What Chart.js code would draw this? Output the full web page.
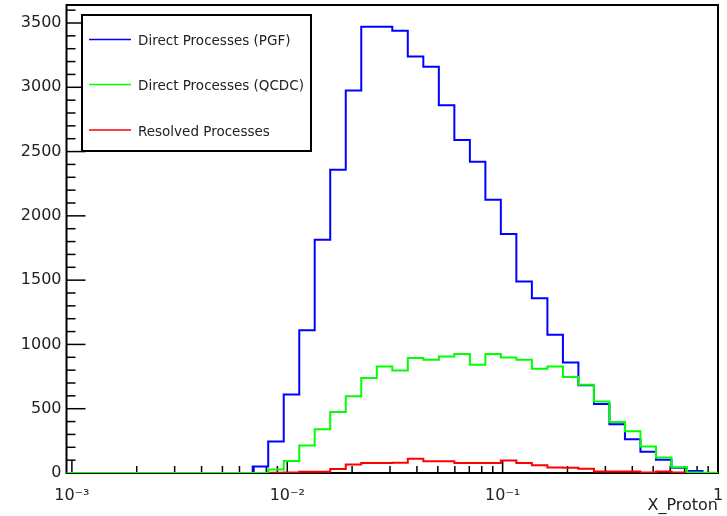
<!DOCTYPE html>
<html>
<head>
<meta charset="utf-8">
<script src="https://cdn.jsdelivr.net/npm/chart.js@4.4.0/dist/chart.umd.min.js"></script>
<style>
  html, body { margin: 0; padding: 0; background: #fff; }
  #c { display: block; }
</style>
</head>
<body>
<canvas id="c" width="727" height="516"></canvas>
<script>
// ─── Data ─────────────────────────────────────────────────────
// 42 log-spaced bins in X_Proton, edges

const binEdges = [
  0.000944, 0.001114, 0.001315, 0.001553, 0.001833, 0.002164, 0.002554, 0.003015,
  0.003559, 0.004201, 0.004959, 0.005854, 0.006910, 0.008157, 0.009629, 0.01137,
  0.01341,  0.01583,  0.01869,  0.02206,  0.02604,  0.03074,  0.03628,  0.04283,
  0.05056,  0.05968,  0.07045,  0.08316,  0.09810,  0.1158,   0.1367,   0.1614,
  0.1905,   0.2248,   0.2654,   0.3132,   0.3698,   0.4364,   0.5151,   0.6080,
  0.7177,   0.8472,   1,
];

const pgf = [
  0, 0, 0, 0, 0, 0, 0, 0, 0, 0, 0, 0,
  50, 245, 610, 1110, 1815, 2358, 2975, 3470, 3470, 3440,
  3240, 3160, 2860, 2590, 2420, 2125, 1858, 1490, 1360, 1075,
  860, 682, 536, 380, 262, 165, 103, 40, 16, 0,
];

const qcdc = [
  0, 0, 0, 0, 0, 0, 0, 0, 0, 0, 0, 0, 0,
  28, 93, 213, 340, 474, 596, 739, 829, 798, 894,
  881, 907, 925, 842, 925, 899, 881, 811, 829, 746,
  687, 557, 396, 324, 207, 121, 44, 3, 2,
];

const resolved = [
  0, 0, 0, 0, 0, 0, 0, 0, 0, 0, 0, 0, 0,
  2, 3, 10, 10, 31, 67, 78, 78, 80, 110,
  92, 92, 78, 78, 78, 98, 78, 60, 42, 40,
  33, 12, 12, 12, 3, 12, 3, 0, 0,
];

const xTickValues = [0.001, 0.01, 0.1, 1];
const xTickLabels = ['10⁻³', '10⁻²', '10⁻¹', '1'];
const yTickValues = [0, 500, 1000, 1500, 2000, 2500, 3000, 3500];
const yMax = 3640;

const FONT = '"DejaVu Sans", "Liberation Sans", sans-serif';
Chart.defaults.color = '#222';

// step outline: one point per bin low edge, plus closing point at the last edge
function histPoints(counts) {
  const pts = counts.map((v, i) => ({ x: binEdges[i], y: v }));
  pts.push({ x: binEdges[binEdges.length - 1], y: counts[counts.length - 1] });
  return pts;
}

// ── ROOT style frame with inward ticks ────────────────────────

const rootFrame = {
  id: 'rootFrame',
  beforeDatasetsDraw(chart) {
    const { ctx, chartArea: a, scales: { x, y } } = chart;
    const seg = (x1, y1, x2, y2) => { ctx.beginPath(); ctx.moveTo(x1, y1); ctx.lineTo(x2, y2); ctx.stroke(); };
    ctx.save();
    ctx.strokeStyle = '#000';
    ctx.lineWidth = 1.5;

    for (let v = 0; v <= yMax; v += 100) {
      const py = y.getPixelForValue(v);
      seg(a.left, py, a.left + (v % 500 === 0 ? 19 : 9), py);
    }
    for (let e = -4; e <= 0; e++) {
      for (let d = 1; d <= 9; d++) {
        const v = d * Math.pow(10, e);
        if (v < x.min || v > x.max) continue;
        const px = x.getPixelForValue(v);
        seg(px, a.bottom, px, a.bottom - (d === 1 ? 13 : 7));
      }
    }

    ctx.lineWidth = 2;
    ctx.strokeRect(a.left, a.top, a.right - a.left, a.bottom - a.top);
    ctx.restore();
  },
};

// ── Boxed legend in the upper left ────────────────────────────

const rootLegend = {
  id: 'rootLegend',
  afterDraw(chart, args, o) {
    const { ctx } = chart;
    ctx.save();
    ctx.fillStyle = '#fff';
    ctx.fillRect(o.left, o.top, o.right - o.left, o.bottom - o.top);
    ctx.strokeStyle = '#000';
    ctx.lineWidth = 2;
    ctx.strokeRect(o.left, o.top, o.right - o.left, o.bottom - o.top);

    ctx.font = '13.5px ' + FONT;
    ctx.textBaseline = 'middle';
    chart.data.datasets.forEach((ds, i) => {
      const ry = o.rows[i];
      ctx.strokeStyle = ds.borderColor;
      ctx.lineWidth = 1.5;
      ctx.beginPath();
      ctx.moveTo(o.left + 7, ry);
      ctx.lineTo(o.left + 49, ry);
      ctx.stroke();
      ctx.fillStyle = '#222';
      ctx.fillText(ds.label, o.left + 56, ry + 2);
    });
    ctx.restore();
  },
};

function dataset(label, counts, color, order) {
  return {
    label,
    data: histPoints(counts),
    borderColor: color,
    borderWidth: 2,
    stepped: true,
    fill: false,
    pointRadius: 0,
    order,
  };
}

new Chart(document.getElementById('c'), {
  type: 'line',
  data: {
    datasets: [
      dataset('Direct Processes (PGF)',  pgf,      '#0000ff', 2),
      dataset('Direct Processes (QCDC)', qcdc,     '#00ff00', 1),
      dataset('Resolved Processes',      resolved, '#ff0000', 3),
    ],
  },
  options: {
    responsive: false,
    animation: false,
    devicePixelRatio: 1,
    layout: { padding: { top: 5, right: 9, left: 0, bottom: 0 } },
    plugins: {
      legend: { display: false },
      tooltip: { enabled: false },
      rootLegend: { left: 82, top: 15, right: 311, bottom: 151, rows: [39.5, 84.5, 130] },
    },
    scales: {
      x: {
        type: 'logarithmic',
        min: binEdges[0],
        max: binEdges[binEdges.length - 1],
        grid: { display: false, drawTicks: false },
        border: { display: false },
        afterBuildTicks: s => { s.ticks = xTickValues.map(v => ({ value: v })); },
        afterFit: s => { s.height = 43; s.paddingLeft = 0; s.paddingRight = 0; },
        ticks: {
          padding: 13,
          autoSkip: false,
          maxRotation: 0,
          font: { family: FONT, size: 16 },
          callback: (v, i) => xTickLabels[i],
        },
        title: {
          display: true,
          text: 'X_Proton',
          align: 'end',
          font: { family: FONT, size: 16 },
          padding: { top: 0, bottom: 1 },
        },
      },
      y: {
        min: 0,
        max: yMax,
        grid: { display: false, drawTicks: false },
        border: { display: false },
        afterBuildTicks: s => { s.ticks = yTickValues.map(v => ({ value: v })); },
        afterFit: s => { s.width = 66.5; s.paddingTop = 0; s.paddingBottom = 0; },
        ticks: {
          padding: 5,
          font: { family: FONT, size: 16 },
          callback: v => String(v),
        },
      },
    },
  },
  plugins: [rootFrame, rootLegend],
});
</script>
</body>
</html>
